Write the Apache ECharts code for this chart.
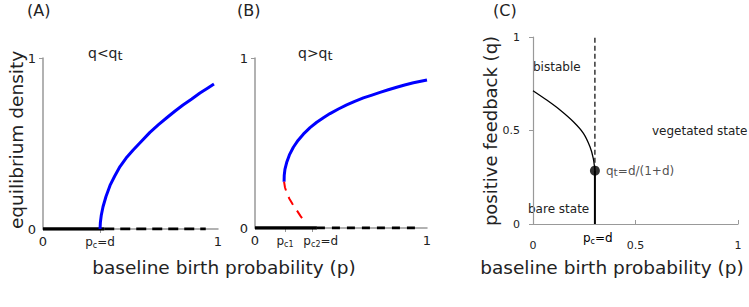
<!DOCTYPE html>
<html>
<head>
<meta charset="utf-8">
<script src="https://cdn.jsdelivr.net/npm/echarts@6/dist/echarts.min.js"></script>
<style>
html, body { margin: 0; padding: 0; background: #fff; }
#main { width: 749px; height: 307px; }
</style>
</head>
<body>
<div id="main"></div>
<script>
// panel A : q < qt
var pcA = 0.326;
var curveA = [[0.326, 0], [0.328, 0.04], [0.333, 0.08], [0.343, 0.13], [0.36, 0.19], [0.383, 0.255], [0.41, 0.31],
  [0.44, 0.365], [0.475, 0.415], [0.514, 0.46], [0.56, 0.51], [0.611, 0.565], [0.66, 0.61], [0.709, 0.652],
  [0.755, 0.69], [0.8, 0.725], [0.85, 0.76], [0.897, 0.795], [0.94, 0.823], [0.977, 0.848]];
var bareA = [[0, 0], [0.35, 0]];
var dashA = [[0.35, 0], [0.93, 0]];

// panel B : q > qt
var pc1B = 0.174;
var pc2B = 0.33;
var upperB = [[0.169, 0.272], [0.17, 0.31], [0.174, 0.345], [0.184, 0.385], [0.2, 0.43], [0.223, 0.475], [0.25, 0.515],
  [0.281, 0.552], [0.32, 0.59], [0.359, 0.622], [0.4, 0.65], [0.436, 0.673], [0.485, 0.7], [0.533, 0.724],
  [0.58, 0.745], [0.63, 0.765], [0.68, 0.782], [0.727, 0.798], [0.775, 0.813], [0.824, 0.828], [0.87, 0.841],
  [0.921, 0.854], [1.0, 0.871]];
var lowerB = [[0.169, 0.272], [0.174, 0.24], [0.185, 0.205], [0.2, 0.172], [0.219, 0.14], [0.243, 0.104], [0.265, 0.07], [0.291, 0.035]];
var bareB = [[0, 0], [0.36, 0]];
var dashB = [[0.36, 0], [0.93, 0]];

// panel C : phase diagram
var pcC = 0.302;
var qtC = 0.285;
var boundaryC = [[0, 0.713], [0.067, 0.663], [0.132, 0.61], [0.197, 0.547], [0.246, 0.485], [0.278, 0.413], [0.294, 0.351], [0.302, 0.285]];
var ticksAB = [0, 1];
var ticksC = [0, 0.5, 1];

var txt = '#222';
var axisGray = '#999';
var font = 'DejaVu Sans';

var sub = {
  p: { fontSize: 12, color: txt, fontFamily: font },
  s: { fontSize: 8, color: txt, fontFamily: font, padding: [6, 0, 0, 0] },
  gap: { width: 18 }
};

function abX(grid, labels) {
  return {
    type: 'value', gridIndex: grid, min: 0, max: 1,
    axisLine: { show: true, lineStyle: { color: axisGray, width: 1.5 } },
    axisTick: { show: true, customValues: labels.ticks, length: 4, lineStyle: { color: axisGray } },
    splitLine: { show: false },
    axisLabel: {
      customValues: labels.values, margin: 6, color: txt, fontFamily: font, fontSize: 13,
      formatter: labels.fmt, rich: sub
    }
  };
}
function abY(grid) {
  return {
    type: 'value', gridIndex: grid, min: 0, max: 1,
    axisLine: { show: true, lineStyle: { color: axisGray, width: 1.5 } },
    axisTick: { show: true, customValues: [1], length: 4, lineStyle: { color: axisGray } },
    splitLine: { show: false },
    axisLabel: { customValues: ticksAB, margin: 7, color: txt, fontFamily: font, fontSize: 13 }
  };
}

var chart = echarts.init(document.getElementById('main'), null, { renderer: 'svg' });

var option = {
  animation: false,
  backgroundColor: '#fff',
  grid: [
    { left: 43, top: 58, width: 175, height: 171 },
    { left: 255, top: 58, width: 172, height: 170 },
    { left: 533, top: 37, width: 205, height: 187 }
  ],
  xAxis: [
    abX(0, {
      ticks: [pcA], values: [0, pcA, 1],
      fmt: function (v) { return v === pcA ? '{p|p}{s|c}{p|=d}' : String(v); }
    }),
    abX(1, {
      ticks: [pc1B, pc2B], values: [0, pc1B, pc2B, 1],
      fmt: function (v) {
        if (v === pc1B) return '{p|p}{s|c1}';
        if (v === pc2B) return '{gap|}{p|p}{s|c2}{p|=d}';
        return String(v);
      }
    }),
    {
      type: 'value', gridIndex: 2, min: 0, max: 1, offset: 7,
      axisLine: { show: true, lineStyle: { color: axisGray, width: 1.2 } },
      axisTick: { show: true, inside: true, customValues: ticksC, length: 4, lineStyle: { color: axisGray } },
      splitLine: { show: false },
      axisLabel: { customValues: ticksC, margin: 9, color: txt, fontFamily: font, fontSize: 11 }
    }
  ],
  yAxis: [
    abY(0),
    abY(1),
    {
      type: 'value', gridIndex: 2, min: 0, max: 1, offset: 8,
      axisLine: { show: true, lineStyle: { color: axisGray, width: 1.2 } },
      axisTick: { show: true, customValues: ticksC, length: 4, lineStyle: { color: axisGray } },
      splitLine: { show: false },
      axisLabel: { customValues: ticksC, margin: 5, color: txt, fontFamily: font, fontSize: 11 }
    }
  ],
  series: [
    // A
    { type: 'line', xAxisIndex: 0, yAxisIndex: 0, data: bareA, symbol: 'none', lineStyle: { color: '#000', width: 3.5 } },
    { type: 'line', xAxisIndex: 0, yAxisIndex: 0, data: dashA, symbol: 'none', lineStyle: { color: '#000', width: 3, type: [10, 6] } },
    { type: 'line', xAxisIndex: 0, yAxisIndex: 0, data: curveA, symbol: 'none', lineStyle: { color: '#0000ff', width: 3, join: 'round' } },
    // B
    { type: 'line', xAxisIndex: 1, yAxisIndex: 1, data: bareB, symbol: 'none', lineStyle: { color: '#000', width: 3.5 } },
    { type: 'line', xAxisIndex: 1, yAxisIndex: 1, data: dashB, symbol: 'none', lineStyle: { color: '#000', width: 3, type: [8, 7] } },
    { type: 'line', xAxisIndex: 1, yAxisIndex: 1, data: upperB, symbol: 'none', lineStyle: { color: '#0000ff', width: 3, join: 'round' } },
    { type: 'line', xAxisIndex: 1, yAxisIndex: 1, data: lowerB, symbol: 'none', lineStyle: { color: '#ff0000', width: 2, type: [9, 7] } },
    // C
    { type: 'line', xAxisIndex: 2, yAxisIndex: 2, data: boundaryC, symbol: 'none', smooth: 0.3, lineStyle: { color: '#000', width: 1.3 } },
    { type: 'line', xAxisIndex: 2, yAxisIndex: 2, data: [[pcC, qtC], [pcC, 1]], symbol: 'none', lineStyle: { color: '#000', width: 1.2, type: [5, 3] } },
    { type: 'line', xAxisIndex: 2, yAxisIndex: 2, data: [[pcC, 0], [pcC, qtC]], symbol: 'none', lineStyle: { color: '#000', width: 2 } },
    {
      type: 'scatter', xAxisIndex: 2, yAxisIndex: 2, data: [[pcC, qtC]], symbolSize: 10, itemStyle: { color: '#000' },
      label: {
        show: true, position: 'right', distance: 6, color: txt, fontFamily: font,
        formatter: '{p|q}{s|t}{p|=d/(1+d)}',
        rich: { p: { fontSize: 12, color: txt, fontFamily: font }, s: { fontSize: 11, color: txt, fontFamily: font, padding: [4, 0, 0, 0] } }
      }
    }
  ],
  graphic: [
    { type: 'text', left: 27, top: 2, style: { text: '(A)', font: '16px DejaVu Sans', fill: txt } },
    { type: 'text', left: 237, top: 2, style: { text: '(B)', font: '16px DejaVu Sans', fill: txt } },
    { type: 'text', left: 493, top: 2, style: { text: '(C)', font: '16px DejaVu Sans', fill: txt } },
    {
      type: 'text', left: 88, top: 46,
      style: { text: '{a|q<q}{t|t}', rich: { a: { fontSize: 14, fontFamily: font, fill: txt }, t: { fontSize: 13, fontFamily: font, fill: txt, padding: [4, 0, 0, 0] } } }
    },
    {
      type: 'text', left: 298, top: 46,
      style: { text: '{a|q>q}{t|t}', rich: { a: { fontSize: 14, fontFamily: font, fill: txt }, t: { fontSize: 13, fontFamily: font, fill: txt, padding: [4, 0, 0, 0] } } }
    },
    { type: 'text', left: 533, top: 61, style: { text: 'bistable', font: '12px DejaVu Sans', fill: txt } },
    { type: 'text', left: 652, top: 125, style: { text: 'vegetated state', font: '12px DejaVu Sans', fill: txt } },
    { type: 'text', left: 528, top: 203, style: { text: 'bare state', font: '12px DejaVu Sans', fill: txt } },
    {
      type: 'text', left: 583, top: 232,
      style: { text: '{p|p}{s|c}{p|=d}', rich: sub }
    },
    { type: 'text', x: 224, y: 267, style: { text: 'baseline birth probability (p)', font: '18.5px DejaVu Sans', fill: txt, align: 'center', verticalAlign: 'middle' } },
    { type: 'text', x: 612, y: 267, style: { text: 'baseline birth probability (p)', font: '18.5px DejaVu Sans', fill: txt, align: 'center', verticalAlign: 'middle' } },
    { type: 'text', x: 16, y: 140, rotation: Math.PI / 2, style: { text: 'equilibrium density', font: '18.5px DejaVu Sans', fill: txt, align: 'center', verticalAlign: 'middle' } },
    { type: 'text', x: 490, y: 131, rotation: Math.PI / 2, style: { text: 'positive feedback (q)', font: '18px DejaVu Sans', fill: txt, align: 'center', verticalAlign: 'middle' } }
  ]
};
chart.setOption(option);
</script>
</body>
</html>
